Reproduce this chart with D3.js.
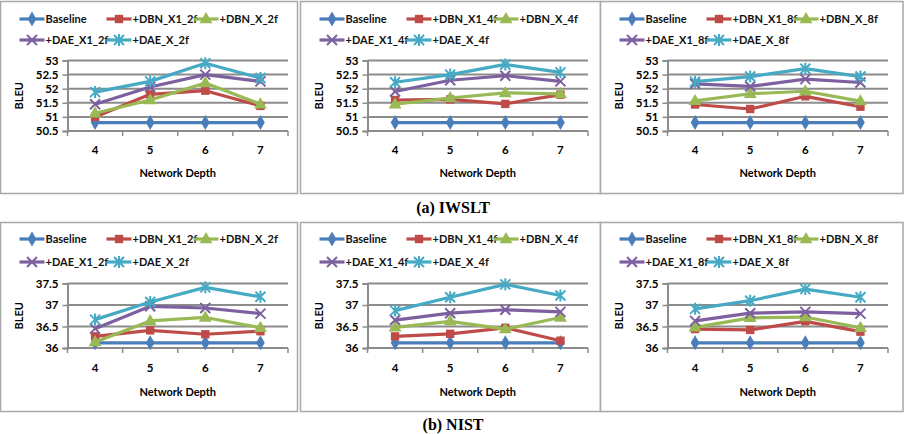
<!DOCTYPE html>
<html><head><meta charset="utf-8">
<script src="https://cdn.jsdelivr.net/npm/d3@7"></script>
<style>
html,body{margin:0;padding:0;background:#fff;}
svg{display:block;}
</style></head>
<body>
<script>
// ---------- DATA ----------
const depths = [4, 5, 6, 7];
const seriesBase = ["Baseline", "+DBN_X1_", "+DBN_X_", "+DAE_X1_", "+DAE_X_"];
const iwsltTicks = [50.5, 51, 51.5, 52, 52.5, 53];
const nistTicks = [36, 36.5, 37, 37.5];

// IWSLT (BLEU) — order: Baseline, DBN_X1, DBN_X, DAE_X1, DAE_X
const iwslt2f_baseline = [50.8, 50.8, 50.8, 50.8];
const iwslt2f_dbnX1 = [51.0, 51.8, 51.93, 51.39];
const iwslt2f_dbnX = [51.13, 51.6, 52.2, 51.45];
const iwslt2f_daeX1 = [51.45, 52.06, 52.5, 52.26];
const iwslt2f_daeX = [51.88, 52.26, 52.9, 52.38];

const iwslt4f_baseline = [50.8, 50.8, 50.8, 50.8];
const iwslt4f_dbnX1 = [51.6, 51.62, 51.46, 51.79];
const iwslt4f_dbnX = [51.45, 51.67, 51.85, 51.82];
const iwslt4f_daeX1 = [51.9, 52.3, 52.46, 52.26];
const iwslt4f_daeX = [52.23, 52.5, 52.86, 52.58];

const iwslt8f_baseline = [50.8, 50.8, 50.8, 50.8];
const iwslt8f_dbnX1 = [51.44, 51.28, 51.73, 51.36];
const iwslt8f_dbnX = [51.57, 51.82, 51.91, 51.56];
const iwslt8f_daeX1 = [52.17, 52.08, 52.34, 52.22];
const iwslt8f_daeX = [52.25, 52.43, 52.71, 52.43];

// NIST (BLEU)
const nist2f_baseline = [36.12, 36.12, 36.12, 36.12];
const nist2f_dbnX1 = [36.27, 36.41, 36.32, 36.39];
const nist2f_dbnX = [36.14, 36.63, 36.71, 36.47];
const nist2f_daeX1 = [36.45, 36.97, 36.93, 36.8];
const nist2f_daeX = [36.66, 37.07, 37.41, 37.19];

const nist4f_baseline = [36.12, 36.12, 36.12, 36.12];
const nist4f_dbnX1 = [36.27, 36.33, 36.47, 36.17];
const nist4f_dbnX = [36.48, 36.62, 36.44, 36.71];
const nist4f_daeX1 = [36.65, 36.81, 36.89, 36.84];
const nist4f_daeX = [36.87, 37.18, 37.48, 37.22];

const nist8f_baseline = [36.12, 36.12, 36.12, 36.12];
const nist8f_dbnX1 = [36.44, 36.42, 36.62, 36.38];
const nist8f_dbnX = [36.48, 36.7, 36.72, 36.47];
const nist8f_daeX1 = [36.63, 36.81, 36.84, 36.8];
const nist8f_daeX = [36.91, 37.1, 37.37, 37.18];

const suffixes = ["2f", "4f", "8f"];
const captions = ["(a) IWSLT", "(b) NIST"];
const yTitle = "BLEU";
const xTitle = "Network Depth";

// ---------- STYLE ----------
const colors = ["#4A7EBB", "#BE4B48", "#98B954", "#7D60A0", "#46AAC5"];
const markers = ["diamond", "square", "triangle", "x", "star"];
const FONT = "Lato, 'Liberation Sans', sans-serif";
const GRID = "#8c8c8c";

const W = 907, H = 434;
const svg = d3.select("body").append("svg").attr("width", W).attr("height", H);

const panelX = [[0.5, 297.5], [300.5, 600.5], [600.5, 903]];
const rows = [
  { top: 1, bottom: 193, yTop: 60.5, yBot: 131, legY: [19, 40], tickY: 150, titleY: 173,
    ticks: iwsltTicks,
    data: [
      [iwslt2f_baseline, iwslt2f_dbnX1, iwslt2f_dbnX, iwslt2f_daeX1, iwslt2f_daeX],
      [iwslt4f_baseline, iwslt4f_dbnX1, iwslt4f_dbnX, iwslt4f_daeX1, iwslt4f_daeX],
      [iwslt8f_baseline, iwslt8f_dbnX1, iwslt8f_dbnX, iwslt8f_daeX1, iwslt8f_daeX]
    ], caption: captions[0], capY: 213 },
  { top: 222, bottom: 411, yTop: 283.5, yBot: 348, legY: [239, 262], tickY: 368, titleY: 392,
    ticks: nistTicks,
    data: [
      [nist2f_baseline, nist2f_dbnX1, nist2f_dbnX, nist2f_daeX1, nist2f_daeX],
      [nist4f_baseline, nist4f_dbnX1, nist4f_dbnX, nist4f_daeX1, nist4f_daeX],
      [nist8f_baseline, nist8f_dbnX1, nist8f_dbnX, nist8f_daeX1, nist8f_daeX]
    ], caption: captions[1], capY: 430 }
];

function drawMarker(g, type, color, cx, cy) {
  if (type === "diamond") {
    g.append("path").attr("d", d3.symbol(d3.symbolDiamond, 65)())
      .attr("transform", `translate(${cx},${cy})`).attr("fill", color);
  } else if (type === "square") {
    g.append("path").attr("d", d3.symbol(d3.symbolSquare, 70)())
      .attr("transform", `translate(${cx},${cy})`).attr("fill", color);
  } else if (type === "triangle") {
    g.append("path").attr("d", d3.symbol(d3.symbolTriangle, 72)())
      .attr("transform", `translate(${cx},${cy + 0.5})`).attr("fill", color);
  } else {
    const r = 5;
    const p = d3.path();
    p.moveTo(-r, -r); p.lineTo(r, r); p.moveTo(-r, r); p.lineTo(r, -r);
    if (type === "star") { p.moveTo(0, -r - 1); p.lineTo(0, r + 1); }
    g.append("path").attr("d", p.toString())
      .attr("transform", `translate(${cx},${cy})`)
      .attr("stroke", color).attr("stroke-width", 2).attr("fill", "none");
  }
}

rows.forEach((row) => {
  panelX.forEach(([pl, pr], pi) => {
    const g = svg.append("g");
    // panel border
    g.append("rect").attr("x", pl).attr("y", row.top + 0.5)
      .attr("width", pr - pl).attr("height", row.bottom - row.top)
      .attr("fill", "#fff").attr("stroke", "#a8a8a8").attr("stroke-width", 1.5);

    const ax0 = pl + 67, ax1 = pl + 287.5;
    const x = d3.scaleBand().domain(depths).range([ax0, ax1]).padding(0);
    const y = d3.scaleLinear().domain([row.ticks[0], row.ticks[row.ticks.length - 1]])
      .range([row.yBot, row.yTop]);

    // gridlines
    g.append("g").selectAll("line").data(row.ticks).join("line")
      .attr("x1", ax0).attr("x2", ax1)
      .attr("y1", d => y(d)).attr("y2", d => y(d))
      .attr("stroke", GRID).attr("stroke-width", 2);

    // y axis
    const yAx = g.append("g").attr("transform", `translate(${ax0},0)`)
      .call(d3.axisLeft(y).tickValues(row.ticks).tickSize(5).tickPadding(4)
        .tickFormat(d => String(d)));
    yAx.select(".domain").attr("stroke", GRID).attr("stroke-width", 2);
    yAx.selectAll(".tick line").attr("stroke", GRID).attr("stroke-width", 1.5);
    yAx.selectAll("text").attr("font-family", FONT).attr("font-weight", 700)
      .attr("font-size", 11.5).attr("fill", "#000");

    // x axis (labels at band centres, ticks at band boundaries)
    const xAx = g.append("g").attr("transform", `translate(0,${row.yBot})`)
      .call(d3.axisBottom(x).tickSize(0).tickPadding(row.tickY - row.yBot - 4));
    xAx.select(".domain").remove();
    xAx.selectAll("text").attr("font-family", FONT).attr("font-weight", 700)
      .attr("font-size", 11.5).attr("fill", "#000");
    const bounds = depths.map(d => x(d)).concat([ax1]);
    g.append("g").selectAll("line").data(bounds).join("line")
      .attr("x1", d => d).attr("x2", d => d)
      .attr("y1", row.yBot).attr("y2", row.yBot + 5)
      .attr("stroke", GRID).attr("stroke-width", 1.5);

    // axis titles
    g.append("text").attr("x", (ax0 + ax1) / 2).attr("y", row.titleY + 4)
      .attr("text-anchor", "middle").attr("font-family", FONT).attr("font-weight", 700)
      .attr("font-size", 11).text(xTitle);
    g.append("text")
      .attr("transform", `translate(${pl + 22},${(row.yTop + row.yBot) / 2}) rotate(-90)`)
      .attr("text-anchor", "middle").attr("font-family", FONT).attr("font-weight", 700)
      .attr("font-size", 11).text(yTitle);

    // series
    const cx = d => x(d) + x.bandwidth() / 2;
    const data = row.data[pi];
    data.forEach((vals, si) => {
      const pts = depths.map((d, i) => [cx(d), y(vals[i])]);
      g.append("path").attr("d", d3.line()(pts)).attr("fill", "none")
        .attr("stroke", colors[si]).attr("stroke-width", 3.2).attr("stroke-linejoin", "round");
      pts.forEach(p => drawMarker(g, markers[si], colors[si], p[0], p[1]));
    });

    // legend
    seriesBase.forEach((name, si) => {
      const label = si === 0 ? name : name + suffixes[pi];
      const r = si < 3 ? 0 : 1;
      const c = si < 3 ? si : si - 3;
      const lx = pl + 19 + c * 87;
      const ly = row.legY[r];
      g.append("line").attr("x1", lx).attr("x2", lx + 25).attr("y1", ly).attr("y2", ly)
        .attr("stroke", colors[si]).attr("stroke-width", 3.2);
      drawMarker(g, markers[si], colors[si], lx + 12.5, ly);
      g.append("text").attr("x", lx + 26).attr("y", ly + 4)
        .attr("font-family", FONT).attr("font-weight", 700).attr("font-size", 11)
        .attr("fill", "#111").text(label);
    });
  });
  svg.append("text").attr("x", 453).attr("y", row.capY).attr("text-anchor", "middle")
    .attr("font-family", "'Liberation Serif', 'Times New Roman', serif").attr("font-weight", 700)
    .attr("font-size", 16).text(row.caption);
});
</script>
</body></html>
